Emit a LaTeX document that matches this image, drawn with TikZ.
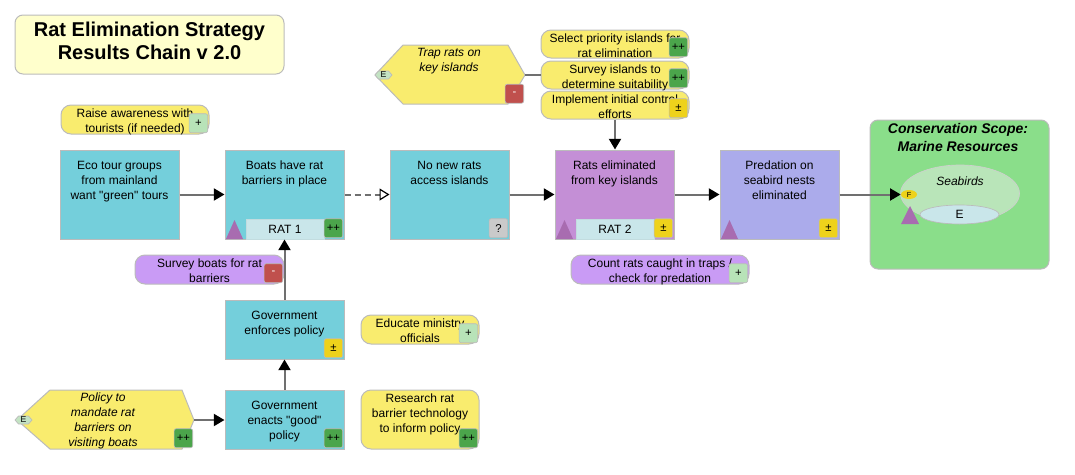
\documentclass[tikz,border=0pt]{standalone}
\usepackage{fontspec}
\setmainfont{Liberation Sans}[Ligatures=TeXOff]
\usetikzlibrary{arrows.meta,fit,shapes.geometric}
\definecolor{bgray}{HTML}{BBBBBB}
\definecolor{lgray}{HTML}{707070}
\definecolor{cyanbox}{HTML}{74CFDB}
\definecolor{purpbox}{HTML}{C48FD6}
\definecolor{lavbox}{HTML}{ABABEB}
\definecolor{yelact}{HTML}{F9EC6E}
\definecolor{puract}{HTML}{C99BF5}
\definecolor{bgreen}{HTML}{4BA54B}
\definecolor{blgreen}{HTML}{B8E3B8}
\definecolor{bred}{HTML}{C0504D}
\definecolor{byel}{HTML}{EED21B}
\definecolor{bgrey}{HTML}{CACACA}
\definecolor{ratfill}{HTML}{C9E6EA}
\definecolor{tripurp}{HTML}{A86CB0}
\definecolor{consgreen}{HTML}{8ADE8A}
\definecolor{seafill}{HTML}{B9E5B9}
\definecolor{titlefill}{HTML}{FFFFCC}
\definecolor{emark}{HTML}{C3E3C3}

\newcommand\mainbx[6]{% name, x, y, h, fill, text
  \node[mainbox, fill=#5, fit={(#2,#3) (#2+119,#3+#4)}] (#1) {};
  \node[txt] (#1-t) at (#2+59.5,#3+10.5) {#6};}
\newcommand\actbx[7]{% name, x1,y1,x2,y2, fill, text
  \node[actbox, fill=#6, fit={(#2,#3) (#4,#5)}] (#1) {};
  \node[txt] (#1-t) at ({(#2+#4)/2},#3+3.5) {#7};}
\newcommand\badge[5]{% name, x right, y bottom, fill, text
  \node[bdg, fill=#4] (#1) at (#2,#3) {#5};}
\newcommand\tri[2]{\fill[tripurp] (#1,#2) -- (#1+8.5,#2-19) -- (#1+17,#2) -- cycle;}

\begin{document}
\begin{tikzpicture}[x=0.75pt,y=-0.75pt,
  mainbox/.style={draw=bgray, line width=0.75pt, inner sep=0pt, rectangle},
  actbox/.style={draw=bgray, line width=0.75pt, inner sep=0pt, rounded corners=7.5pt},
  txt/.style={font=\fontsize{9}{11.25}\selectfont, align=center, inner sep=0pt, anchor=north},
  itxt/.style={txt, font=\itshape\fontsize{9}{11.25}\selectfont},
  bdg/.style={rectangle, rounded corners=1.5pt, minimum width=13.9pt, minimum height=14.2pt,
    inner sep=0pt, font=\fontsize{8.5}{10}\selectfont, draw=bgray, line width=0.5pt, anchor=south east},
  ratlbl/.style={rectangle, fill=ratfill, draw=ratfill!90!gray, line width=0.4pt, minimum width=58.5pt,
    minimum height=15pt, inner sep=0pt, font=\fontsize{9}{11}\selectfont},
  emk/.style={font=\fontsize{6.5}{7}\selectfont, inner sep=0pt},
  conn/.style={draw=lgray, line width=1.5pt},
  arr/.style={conn, -{Triangle[length=8pt,width=9pt,color=black]}},
  darr/.style={conn, dash pattern=on 4.5pt off 3pt,
    -{Triangle[open,length=7.5pt,width=9pt,color=black,fill=white,line width=0.9pt]}}
]
\useasboundingbox (0,0) rectangle (1075,475);

% title
\node[draw=bgray, fill=titlefill, rounded corners=6pt, line width=0.75pt, inner sep=0pt,
  fit={(15,15) (284,74)}] (title) {};
\node[font=\bfseries\fontsize{15}{17.25}\selectfont, align=center, inner sep=0pt]
  (title-t) at (149.5,41) {Rat Elimination Strategy\\Results Chain v 2.0};

% main boxes
\mainbx{eco}{60}{150}{89}{cyanbox}{Eco tour groups\\from mainland\\want "green" tours}
\mainbx{boats}{225}{150}{89}{cyanbox}{Boats have rat\\barriers in place}
\mainbx{nonew}{390}{150}{89}{cyanbox}{No new rats\\access islands}
\mainbx{ratsel}{555}{150}{89}{purpbox}{Rats eliminated\\from key islands}
\mainbx{pred}{720}{150}{89}{lavbox}{Predation on\\seabird nests\\eliminated}
\mainbx{enf}{225}{300}{59}{cyanbox}{Government\\enforces policy}
\mainbx{enact}{225}{390}{59}{cyanbox}{Government\\enacts "good"\\policy}

\tri{226}{239}
\tri{556}{239}
\tri{721}{239}
\node[ratlbl] (rat1) at (285,229) {RAT 1};
\node[ratlbl] (rat2) at (615,229) {RAT 2};
\badge{boats-b}{343}{238}{bgreen}{++}
\badge{nonew-b}{508}{238}{bgrey}{?}
\badge{ratsel-b}{673}{238}{byel}{±}
\badge{pred-b}{838}{238}{byel}{±}
\badge{enf-b}{343}{358}{byel}{±}
\badge{enact-b}{343}{448}{bgreen}{++}

% activities
\actbx{raise}{61}{105}{209}{134}{yelact}{Raise awareness with\\tourists (if needed)}
\badge{raise-b}{208}{133}{blgreen}{+}
\actbx{survb}{135}{255}{284}{284}{puract}{Survey boats for rat\\barriers}
\badge{survb-b}{283}{283}{bred}{\textcolor{white}{-}}
\actbx{educ}{361}{315}{479}{344}{yelact}{Educate ministry\\officials}
\badge{educ-b}{478}{343}{blgreen}{+}
\actbx{research}{361}{390}{479}{449}{yelact}{Research rat\\barrier technology\\to inform policy}
\badge{research-b}{478}{448}{bgreen}{++}
\actbx{select}{541}{30}{689}{58}{yelact}{Select priority islands for\\rat elimination}
\badge{select-b}{688}{57}{bgreen}{++}
\actbx{survi}{541}{61}{689}{89}{yelact}{Survey islands to\\determine suitability}
\badge{survi-b}{688}{88}{bgreen}{++}
\actbx{impl}{541}{91}{689}{119}{yelact}{Implement initial control\\efforts}
\badge{impl-b}{688}{118}{byel}{±}
\actbx{count}{571}{255}{749}{284}{puract}{Count rats caught in traps /\\check for predation}
\badge{count-b}{748}{283}{blgreen}{+}

% strategy hexagons
\filldraw[fill=yelact, draw=bgray, line width=0.75pt]
  (375,75) -- (403,45) -- (508,45) -- (525,75) -- (508,104) -- (403,104) -- cycle;
\coordinate (trapR) at (525,75);
\node[itxt] (trap-t) at (449,47.5) {Trap rats on\\key islands};
\badge{trap-b}{524}{103.5}{bred}{\textcolor{white}{-}}
\filldraw[fill=emark, draw=bgray, line width=0.5pt]
  (375,75) -- (378.5,71) -- (388.5,71) -- (392,75) -- (388.5,79) -- (378.5,79) -- cycle;
\node[emk] (trap-e) at (383.5,75) {E};

\filldraw[fill=yelact, draw=bgray, line width=0.75pt]
  (17,420) -- (50,390) -- (182,390) -- (194,420) -- (182,449) -- (50,449) -- cycle;
\coordinate (polR) at (194,420);
\node[itxt] (pol-t) at (103,392.5) {Policy to\\mandate rat\\barriers on\\visiting boats};
\badge{pol-b}{193}{448}{bgreen}{++}
\filldraw[fill=emark, draw=bgray, line width=0.5pt]
  (15,420) -- (18.5,416) -- (28.5,416) -- (32,420) -- (28.5,424) -- (18.5,424) -- cycle;
\node[emk] (pol-e) at (23.5,420) {E};

% conservation scope
\node[draw=bgray, fill=consgreen, rounded corners=6pt, line width=0.75pt, inner sep=0pt,
  fit={(870,120) (1049,269)}] (cons) {};
\node[font=\bfseries\itshape\fontsize{10.5}{13.5}\selectfont, align=center, inner sep=0pt, anchor=north]
  (cons-t) at (958,123) {Conservation Scope:\\Marine Resources};
\node[ellipse, draw=bgray!70, fill=seafill, line width=0.5pt, minimum width=89.25pt,
  minimum height=42.75pt, inner sep=0pt] (seabirds) at (960,193.5) {};
\node[font=\itshape\fontsize{9}{11}\selectfont, inner sep=0pt] (seabirds-t) at (960,181) {Seabirds};
\node[ellipse, draw=bgray, fill=ratfill, line width=0.5pt, minimum width=59.25pt,
  minimum height=14.25pt, inner sep=0pt, font=\fontsize{9}{11}\selectfont] (seaE) at (959.5,214.5) {E};
\fill[tripurp] (901,224) -- (910,206) -- (919,224) -- cycle;
\node[ellipse, fill=byel, minimum width=12pt, minimum height=6.75pt, inner sep=0pt,
  font=\fontsize{5.5}{6}\selectfont] (F) at (909,194.5) {F};

% connectors
\draw[arr] (eco) -- (boats);
\draw[darr] (boats) -- (nonew);
\draw[arr] (nonew) -- (ratsel);
\draw[arr] (ratsel) -- (pred);
\draw[arr] (pred.east) -- (F.west);
\draw[arr] (impl.south) -- (impl.south |- ratsel.north);
\draw[conn] (trapR) -- (survi.west);
\draw[arr] (enf) -- (boats);
\draw[arr] (enact) -- (enf);
\draw[arr] (polR) -- (polR -| enact.west);
\end{tikzpicture}
\end{document}
